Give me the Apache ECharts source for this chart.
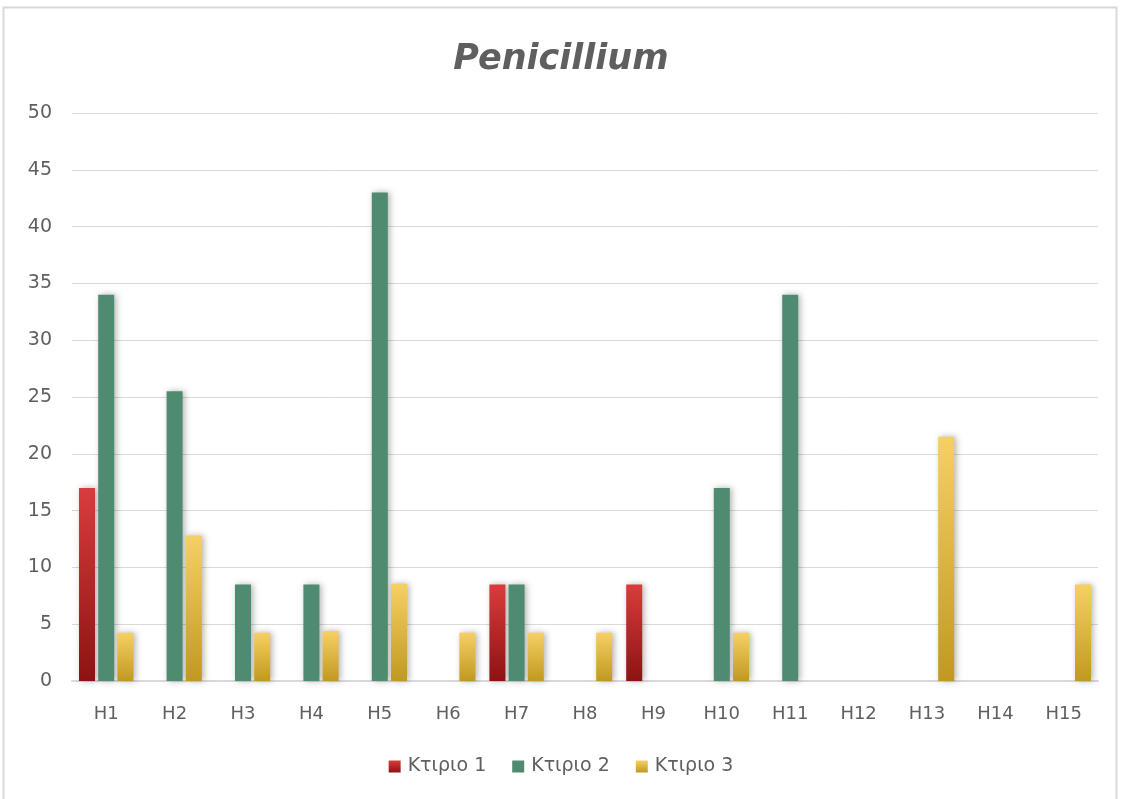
<!DOCTYPE html>
<html>
<head>
<meta charset="utf-8">
<style>
  html, body { margin: 0; padding: 0; background: #ffffff; }
  #chart { width: 1122px; height: 799px; }
</style>
<script src="https://cdn.jsdelivr.net/npm/echarts@6/dist/echarts.min.js"></script>
</head>
<body>
<div id="chart"></div>
<script>
// Sampling points
const categories = ['H1', 'H2', 'H3', 'H4', 'H5', 'H6', 'H7', 'H8', 'H9', 'H10', 'H11', 'H12', 'H13', 'H14', 'H15'];

// Counts per building
const building1 = [17, 0, 0, 0, 0, 0, 8.5, 0, 8.5, 0, 0, 0, 0, 0, 0];
const building2 = [34, 25.5, 8.5, 8.5, 43, 0, 8.5, 0, 0, 17, 34, 0, 0, 0, 0];
const building3 = [4.25, 12.8, 4.25, 4.4, 8.55, 4.25, 4.25, 4.25, 0, 4.25, 0, 0, 21.5, 0, 8.5];

const seriesNames = ['Κτιριο 1', 'Κτιριο 2', 'Κτιριο 3'];
const yTicks = { min: 0, max: 50, interval: 5 };

const FONT = '"DejaVu Sans", sans-serif';
const TEXT = '#5f5f5f';

function vGrad(top, bottom) {
  return new echarts.graphic.LinearGradient(0, 0, 0, 1, [
    { offset: 0, color: top },
    { offset: 1, color: bottom }
  ]);
}

const colors = [
  vGrad('#da3c3c', '#8e1212'),
  '#4f8b70',
  vGrad('#f6d064', '#c19920')
];

const barShadow = {
  shadowBlur: 6,
  shadowOffsetX: 2,
  shadowOffsetY: 0,
  shadowColor: 'rgba(0,0,0,0.3)'
};

function makeSeries(name, data, color) {
  return {
    name: name,
    type: 'bar',
    data: data,
    barWidth: 16,
    barGap: '20%',
    itemStyle: Object.assign({ color: color }, barShadow)
  };
}

const chart = echarts.init(document.getElementById('chart'), null, { renderer: 'canvas' });
chart.setOption({
  backgroundColor: '#ffffff',
  animation: false,
  color: colors,
  graphic: [{
    type: 'rect',
    shape: { x: 3.5, y: 7.5, width: 1113, height: 800 },
    style: { fill: 'none', stroke: '#d9d9d9', lineWidth: 2 },
    silent: true
  }],
  title: {
    text: 'Penicillium',
    left: 'center',
    top: 37,
    textStyle: {
      fontFamily: FONT,
      fontSize: 35,
      fontWeight: 'bold',
      fontStyle: 'italic',
      color: TEXT
    }
  },
  legend: {
    bottom: 18,
    left: 'center',
    itemWidth: 12,
    itemHeight: 12,
    itemGap: 26,
    icon: 'rect',
    textStyle: { fontFamily: FONT, fontSize: 19, color: TEXT, padding: [0, 0, 0, 2] },
    data: seriesNames
  },
  grid: {
    left: 72,
    right: 24,
    top: 113,
    bottom: 118,
    containLabel: false
  },
  xAxis: {
    type: 'category',
    data: categories,
    axisTick: { show: false },
    axisLine: { lineStyle: { color: '#d9d9d9', width: 2 } },
    axisLabel: { fontFamily: FONT, fontSize: 18, color: TEXT, margin: 24 }
  },
  yAxis: {
    type: 'value',
    min: yTicks.min,
    max: yTicks.max,
    interval: yTicks.interval,
    axisLine: { show: false },
    axisTick: { show: false },
    splitLine: { lineStyle: { color: '#d9d9d9', width: 1 } },
    axisLabel: { fontFamily: FONT, fontSize: 19, color: TEXT, margin: 20 }
  },
  series: [
    makeSeries(seriesNames[0], building1, colors[0]),
    makeSeries(seriesNames[1], building2, colors[1]),
    makeSeries(seriesNames[2], building3, colors[2])
  ]
});
</script>
</body>
</html>
